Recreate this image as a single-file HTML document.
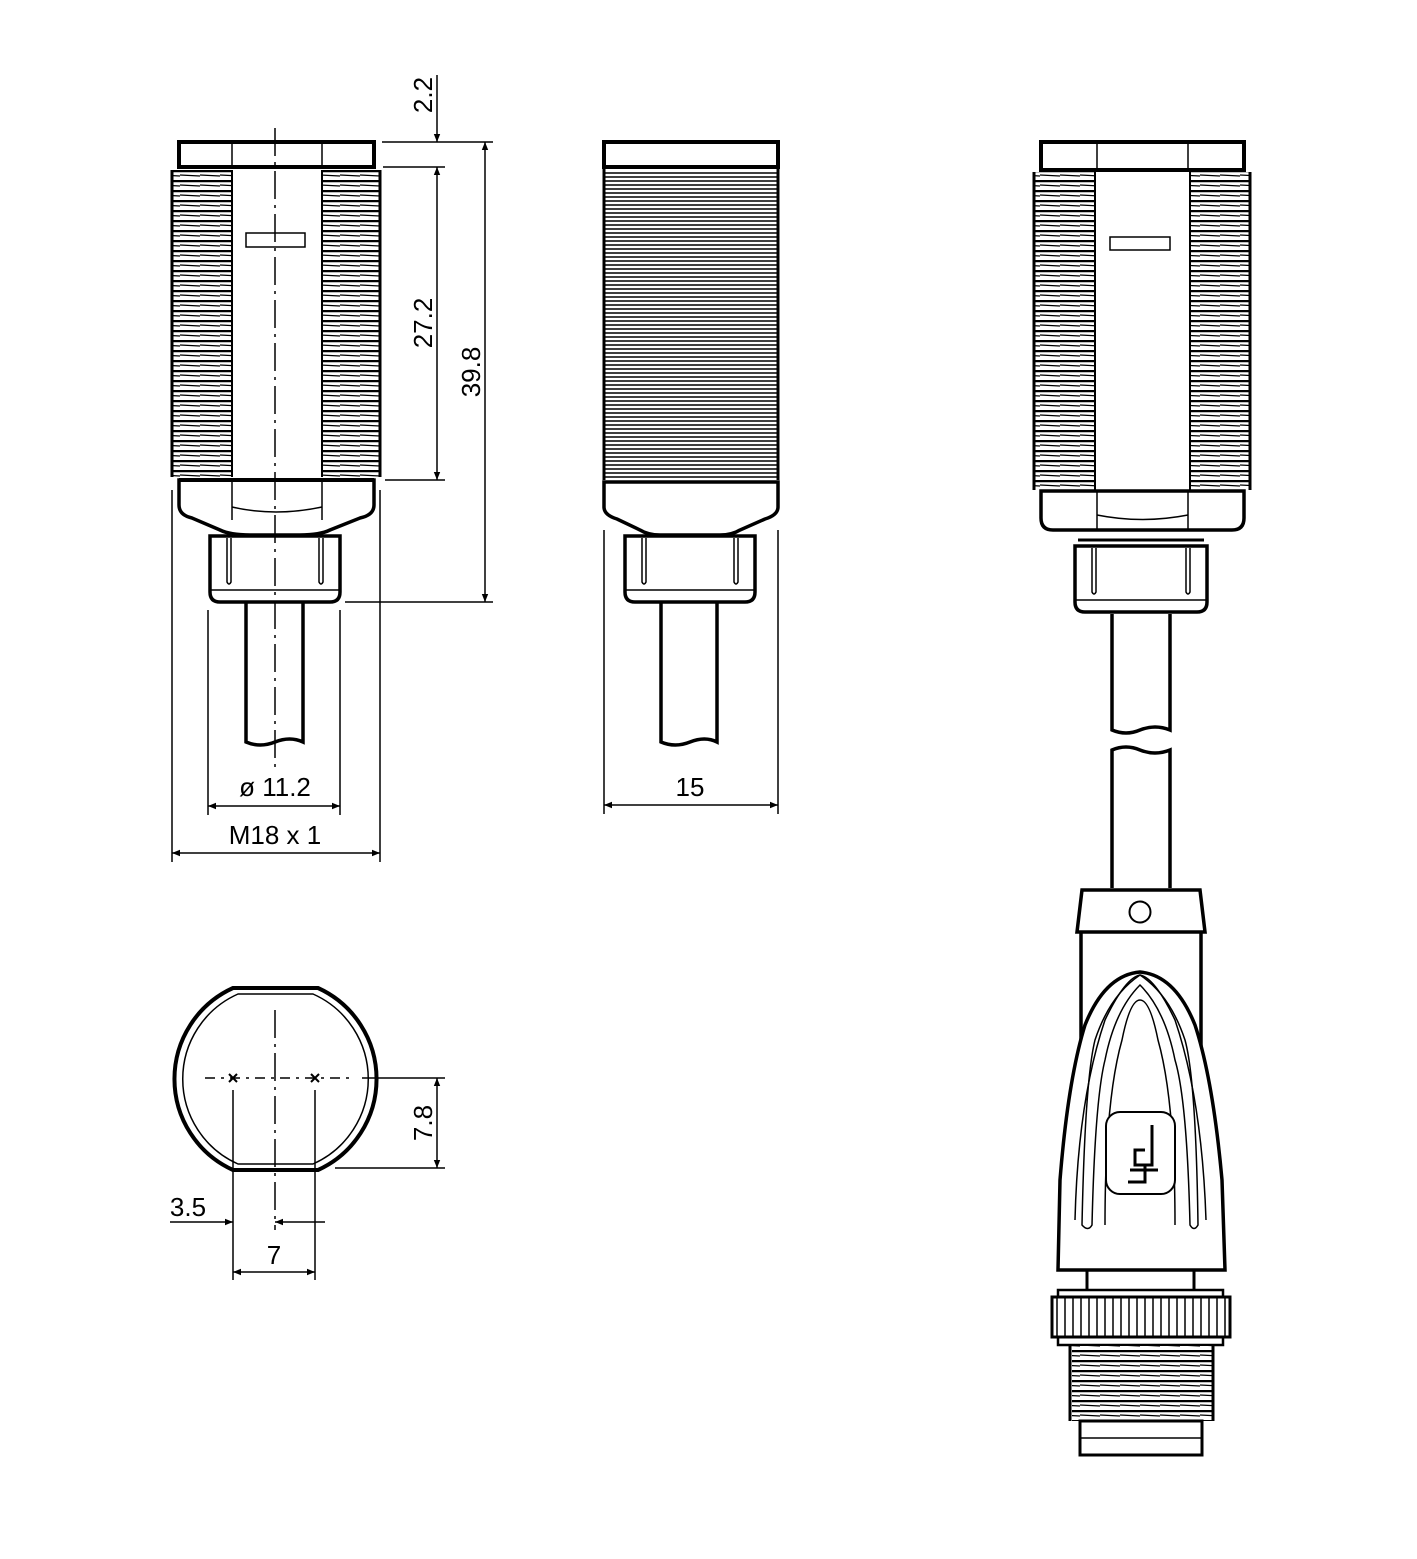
<!DOCTYPE html>
<html><head><meta charset="utf-8"><style>
html,body{margin:0;padding:0;background:#fff}
svg{display:block}
text{font-family:"Liberation Sans",sans-serif;font-size:26px;fill:#000}
</style></head><body>
<svg width="1417" height="1559" viewBox="0 0 1417 1559" xmlns="http://www.w3.org/2000/svg">
<defs>
<pattern id="thr" width="20" height="10" patternUnits="userSpaceOnUse">
<rect width="20" height="10" fill="#fff"/>
<line x1="0" y1="1" x2="20" y2="1" stroke="#000" stroke-width="2.5"/>
<line x1="0" y1="5" x2="20" y2="6" stroke="#000" stroke-width="1.2"/>
</pattern>
<pattern id="fine" width="20" height="4" patternUnits="userSpaceOnUse">
<rect width="20" height="4" fill="#fff"/>
<line x1="0" y1="1" x2="20" y2="1" stroke="#000" stroke-width="1.6"/>
</pattern>
<pattern id="knurl" width="8" height="20" patternUnits="userSpaceOnUse">
<rect width="8" height="20" fill="#fff"/>
<line x1="1" y1="0" x2="1" y2="20" stroke="#000" stroke-width="1.5"/>
</pattern>
<marker id="ar" viewBox="0 0 10 10" refX="10" refY="5" markerWidth="14" markerHeight="8" orient="auto-start-reverse" markerUnits="userSpaceOnUse"><path d="M0,1 L10,5 L0,9 z" fill="#000"/></marker>
</defs>
<g fill="none" stroke="#000" stroke-width="1.5">

<!-- LEFT VIEW -->
<rect x="179" y="142" width="195" height="25" stroke-width="4"/>
<line x1="232" y1="142" x2="232" y2="167"/><line x1="322" y1="142" x2="322" y2="167"/>
<rect x="172" y="170" width="60" height="307" fill="url(#thr)" stroke="none"/>
<rect x="322" y="170" width="58" height="307" fill="url(#thr)" stroke="none"/>
<line x1="172" y1="170" x2="172" y2="477" stroke-width="3"/><line x1="380" y1="170" x2="380" y2="477" stroke-width="3"/>
<line x1="232" y1="170" x2="232" y2="477" stroke-width="2"/><line x1="322" y1="170" x2="322" y2="477" stroke-width="2"/>
<rect x="246" y="233" width="59" height="14"/>
<path d="M179,480 H374 V505 Q374,515 360,518 L330,530 Q320,535 300,535 H250 Q230,535 220,530 L192,518 Q179,515 179,505 Z" stroke-width="3.5" fill="#fff"/>
<line x1="232" y1="480" x2="232" y2="520"/><line x1="322" y1="480" x2="322" y2="520"/>
<path d="M232,507 Q275,517 322,507"/>
<line x1="179" y1="480" x2="374" y2="480" stroke-width="4"/>
<path d="M210,536 H340 V592 Q340,602 330,602 H220 Q210,602 210,592 Z" stroke-width="3.5" fill="#fff"/>
<line x1="211" y1="590" x2="339" y2="590"/>
<path d="M227,538 V582 Q229,586 231,582 V538"/><path d="M319,538 V582 Q321,586 323,582 V538"/>
<path d="M246,603 V742 Q260,748 275,742 Q290,736 303,742 V603" stroke-width="3.5"/>
<line x1="275" y1="128" x2="275" y2="770" stroke-dasharray="28,6,3,6"/>

<!-- dims left -->
<line x1="382" y1="142" x2="493" y2="142"/>
<line x1="383" y1="167" x2="445" y2="167"/>
<line x1="385" y1="480" x2="445" y2="480"/>
<line x1="345" y1="602" x2="493" y2="602"/>
<line x1="437" y1="75" x2="437" y2="142" marker-end="url(#ar)"/>
<line x1="437" y1="167" x2="437" y2="480" marker-start="url(#ar)" marker-end="url(#ar)"/>
<line x1="485" y1="142" x2="485" y2="602" marker-start="url(#ar)" marker-end="url(#ar)"/>
<line x1="208" y1="610" x2="208" y2="815"/><line x1="340" y1="610" x2="340" y2="815"/>
<line x1="208" y1="806" x2="340" y2="806" marker-start="url(#ar)" marker-end="url(#ar)"/>
<line x1="172" y1="490" x2="172" y2="862"/><line x1="380" y1="490" x2="380" y2="862"/>
<line x1="172" y1="853" x2="380" y2="853" marker-start="url(#ar)" marker-end="url(#ar)"/>

<!-- MIDDLE VIEW -->
<rect x="604" y="142" width="174" height="25" stroke-width="4"/>
<rect x="604" y="170" width="174" height="310" fill="url(#fine)" stroke="none"/>
<line x1="604" y1="168" x2="604" y2="480" stroke-width="3"/><line x1="778" y1="168" x2="778" y2="480" stroke-width="3"/>
<path d="M604,482 H778 V507 Q778,515 765,519 L740,530 Q732,535 720,535 H660 Q648,535 640,530 L617,519 Q604,515 604,507 Z" stroke-width="3.5" fill="#fff"/>
<path d="M625,536 H755 V592 Q755,602 745,602 H635 Q625,602 625,592 Z" stroke-width="3.5" fill="#fff"/>
<line x1="626" y1="590" x2="754" y2="590"/>
<path d="M642,538 V582 Q644,586 646,582 V538"/><path d="M734,538 V582 Q736,586 738,582 V538"/>
<path d="M661,603 V742 Q675,748 690,742 Q705,736 717,742 V603" stroke-width="3.5"/>
<line x1="604" y1="530" x2="604" y2="814"/><line x1="778" y1="530" x2="778" y2="814"/>
<line x1="604" y1="805" x2="778" y2="805" marker-start="url(#ar)" marker-end="url(#ar)"/>

<!-- RIGHT VIEW -->
<rect x="1041" y="142" width="203" height="28" stroke-width="4"/>
<line x1="1097" y1="142" x2="1097" y2="170"/><line x1="1188" y1="142" x2="1188" y2="170"/>
<rect x="1034" y="172" width="61" height="318" fill="url(#thr)" stroke="none"/>
<rect x="1190" y="172" width="60" height="318" fill="url(#thr)" stroke="none"/>
<line x1="1034" y1="172" x2="1034" y2="490" stroke-width="3"/><line x1="1250" y1="172" x2="1250" y2="490" stroke-width="3"/>
<line x1="1095" y1="172" x2="1095" y2="490" stroke-width="2"/><line x1="1190" y1="172" x2="1190" y2="490" stroke-width="2"/>
<rect x="1110" y="237" width="60" height="13"/>
<path d="M1041,491 H1244 V518 Q1244,530 1232,530 H1053 Q1041,530 1041,518 Z" stroke-width="3.5" fill="#fff"/>
<line x1="1097" y1="491" x2="1097" y2="530"/><line x1="1188" y1="491" x2="1188" y2="530"/>
<path d="M1097,515 Q1142,524 1188,515"/>
<line x1="1078" y1="540" x2="1204" y2="540" stroke-width="3"/>
<path d="M1075,546 H1207 V602 Q1207,612 1197,612 H1085 Q1075,612 1075,602 Z" stroke-width="3.5" fill="#fff"/>
<line x1="1076" y1="600" x2="1206" y2="600"/>
<path d="M1092,548 V592 Q1094,596 1096,592 V548"/><path d="M1186,548 V592 Q1188,596 1190,592 V548"/>
<path d="M1112,614 V730 Q1126,736 1140,730 Q1155,724 1170,730 V614" stroke-width="3.5"/>
<path d="M1112,888 V750 Q1126,744 1140,750 Q1155,756 1170,750 V888" stroke-width="3.5"/>
<path d="M1082,890 H1200 L1205,932 H1077 Z" stroke-width="3.5" fill="#fff"/>
<circle cx="1140" cy="912" r="10.5" stroke-width="2"/>
<path d="M1081,933 V1270 M1201,933 V1270" stroke-width="3.5"/>
<path d="M1058,1270 L1060,1180 Q1068,1080 1085,1025 Q1105,975 1140,972 Q1175,975 1195,1025 Q1213,1080 1222,1180 L1225,1270 Z" stroke-width="3.5" fill="#fff"/>
<path d="M1075,1220 Q1078,1100 1105,1020 Q1125,978 1140,975 Q1155,978 1175,1020 Q1202,1100 1206,1220" stroke-width="1.5"/>
<path d="M1140,975 Q1110,995 1095,1040 Q1085,1080 1082,1225 Q1088,1232 1092,1225 Q1095,1100 1105,1060 Q1115,1010 1140,985 Q1165,1010 1175,1060 Q1187,1100 1190,1225 Q1194,1232 1198,1225 Q1196,1080 1185,1040 Q1170,995 1140,975 Z" stroke-width="1.5"/>
<path d="M1105,1225 Q1105,1100 1122,1040 Q1130,1000 1140,1000 Q1150,1000 1158,1040 Q1175,1100 1175,1225"/>
<rect x="1106" y="1112" width="69" height="82" rx="14" fill="#fff" stroke-width="2"/>
<path d="M1152,1125 V1165 H1135 V1150 H1145" stroke-width="3"/><path d="M1130,1170 H1158 M1145,1165 V1182 H1128" stroke-width="3"/>
<path d="M1087,1271 V1290 M1194,1271 V1290" stroke-width="3"/>
<rect x="1058" y="1290" width="165" height="8" stroke-width="2.5"/>
<rect x="1052" y="1297" width="178" height="40" fill="url(#knurl)" stroke-width="3"/>
<rect x="1058" y="1337" width="165" height="8" stroke-width="2.5"/>
<rect x="1072" y="1346" width="140" height="75" fill="url(#thr)" stroke="none"/>
<line x1="1070" y1="1346" x2="1070" y2="1421" stroke-width="3"/><line x1="1213" y1="1346" x2="1213" y2="1421" stroke-width="3"/>
<rect x="1080" y="1421" width="122" height="34" stroke-width="3" fill="#fff"/>
<line x1="1080" y1="1438" x2="1202" y2="1438" stroke-width="1.5"/>

<!-- BOTTOM-LEFT VIEW -->
<path d="M233,988 L318,988 A100,100 0 0 1 318,1170 L233,1170 A100,100 0 0 1 233,988 Z" stroke-width="4"/>
<path d="M238,994 L313,994 A93,93 0 0 1 313,1164 L238,1164 A93,93 0 0 1 238,994 Z" stroke-width="1.5"/>
<line x1="275" y1="1010" x2="275" y2="1230" stroke-dasharray="28,6,3,6"/>
<line x1="205" y1="1078" x2="350" y2="1078" stroke-dasharray="10,6,3,6"/>
<line x1="362" y1="1078" x2="445" y2="1078"/>
<path d="M229,1074 l8,8 M237,1074 l-8,8 M311,1074 l8,8 M319,1074 l-8,8" stroke-width="2"/>
<line x1="335" y1="1168" x2="445" y2="1168"/>
<line x1="437" y1="1078" x2="437" y2="1168" marker-start="url(#ar)" marker-end="url(#ar)"/>
<line x1="233" y1="1090" x2="233" y2="1280"/><line x1="315" y1="1090" x2="315" y2="1280"/>
<line x1="170" y1="1222" x2="233" y2="1222" marker-end="url(#ar)"/>
<line x1="325" y1="1222" x2="275" y2="1222" marker-end="url(#ar)"/>
<line x1="233" y1="1272" x2="315" y2="1272" marker-start="url(#ar)" marker-end="url(#ar)"/>
</g>

<text x="275" y="796" text-anchor="middle">ø 11.2</text>
<text x="275" y="844" text-anchor="middle">M18 x 1</text>
<text x="690" y="796" text-anchor="middle">15</text>
<text transform="translate(432,95) rotate(-90)" text-anchor="middle">2.2</text>
<text transform="translate(432,323) rotate(-90)" text-anchor="middle">27.2</text>
<text transform="translate(480,372) rotate(-90)" text-anchor="middle">39.8</text>
<text transform="translate(432,1123) rotate(-90)" text-anchor="middle">7.8</text>
<text x="188" y="1216" text-anchor="middle">3.5</text>
<text x="274" y="1264" text-anchor="middle">7</text>
</svg>
</body></html>
